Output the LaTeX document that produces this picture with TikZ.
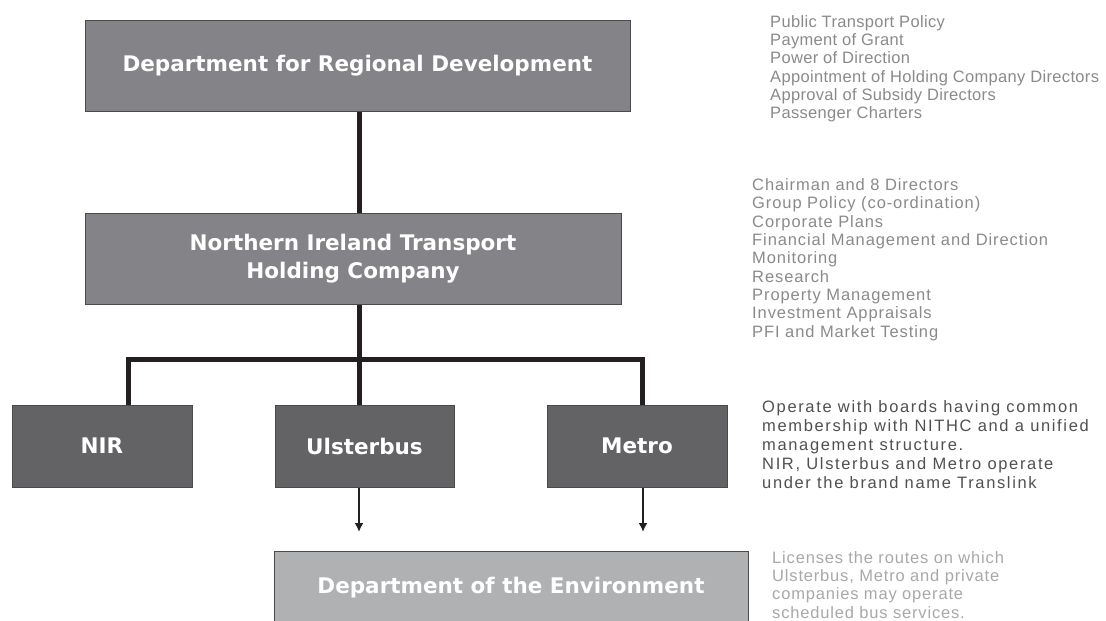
\documentclass[tikz,border=0pt]{standalone}
\usepackage{fontspec}
\usetikzlibrary{arrows.meta}
\setmainfont{Liberation Sans}
\newfontfamily\boxfont{DejaVu Sans}
\newfontfamily\notefont{Liberation Sans}

\definecolor{topgray}{HTML}{848488}
\definecolor{opgray}{HTML}{636365}
\definecolor{doegray}{HTML}{B0B1B3}
\definecolor{edgegray}{HTML}{4A4A4A}
\definecolor{linkblack}{HTML}{231F20}
\definecolor{notegray}{HTML}{8A8A8A}
\definecolor{notedark}{HTML}{505050}
\definecolor{notelight}{HTML}{A8A8A8}

\tikzset{
  orgbox/.style={draw=edgegray, line width=1pt, text=white, align=center, inner sep=0pt,
    font=\boxfont\bfseries\fontsize{21.5}{28}\selectfont},
  trunk/.style={draw=linkblack, line width=5pt, line join=miter},
  feed/.style={draw=linkblack, line width=2.4pt, -{Latex[length=9pt,width=9pt]}},
  notes/.style={anchor=north west, inner sep=0pt, align=left}
}

\begin{document}
\begin{tikzpicture}[x=1pt,y=-1pt]
    \useasboundingbox (0,0) rectangle (1106,621);
    \clip (0,0) rectangle (1106,621);

    \node[orgbox, fill=topgray, minimum width=545, minimum height=91] (drd) at (357.5,65.5) {Department for Regional Development};
    \node[orgbox, fill=topgray, minimum width=536, minimum height=91] (nithc) at (353,258.5) {Northern Ireland Transport\\Holding Company};

    \node[orgbox, fill=opgray, minimum width=180, minimum height=82] (nir) at (102,446) {NIR};
    \node[orgbox, fill=opgray, minimum width=179, minimum height=82] (uls) at (364.5,446) {Ulsterbus};
    \node[orgbox, fill=opgray, minimum width=180, minimum height=82] (metro) at (637,446) {Metro};

    \node[orgbox, fill=doegray, minimum width=474, minimum height=74] (doe) at (511,588) {Department of the Environment};

    \coordinate (jn) at (359,359);
    \coordinate (jl) at (128,359);
    \coordinate (jr) at (642,359);
    \coordinate (tipl) at (359,532);
    \coordinate (tipr) at (643,532);

    \draw[trunk] (drd.south -| jn) -- (nithc.north -| jn);
    \draw[trunk] (nithc.south -| jn) -- (uls.north -| jn);
    \draw[trunk] (nir.north -| jl) -- (jl) -- (jr) -- (metro.north -| jr);

    \draw[feed] (uls.south -| tipl) -- (tipl);
    \draw[feed] (metro.south -| tipr) -- (tipr);

    \node[notes, text=notegray, font=\notefont\fontsize{16.5}{18.3}\selectfont\addfontfeatures{LetterSpace=2}] (drdnotes) at (770,15)
        {Public Transport Policy\\Payment of Grant\\Power of Direction\\Appointment of Holding Company Directors\\Approval of Subsidy Directors\\Passenger Charters};
    \node[notes, text=notegray, font=\notefont\fontsize{16.5}{18.35}\selectfont\addfontfeatures{LetterSpace=5.5}] (nithcnotes) at (752,178.2)
        {Chairman and 8 Directors\\Group Policy (co-ordination)\\Corporate Plans\\Financial Management and Direction\\Monitoring\\Research\\Property Management\\Investment Appraisals\\PFI and Market Testing};
    \node[notes, text=notedark, font=\notefont\fontsize{16.5}{19}\selectfont\addfontfeatures{LetterSpace=10}] (opnotes) at (762,400)
        {Operate with boards having common\\membership with NITHC and a unified\\management structure.\\NIR, Ulsterbus and Metro operate\\under the brand name Translink};
    \node[notes, text=notelight, font=\notefont\fontsize{16.5}{18.3}\selectfont\addfontfeatures{LetterSpace=5}] (doenotes) at (772,551)
        {Licenses the routes on which\\Ulsterbus, Metro and private\\companies may operate\\scheduled bus services.};
\end{tikzpicture}
\end{document}
